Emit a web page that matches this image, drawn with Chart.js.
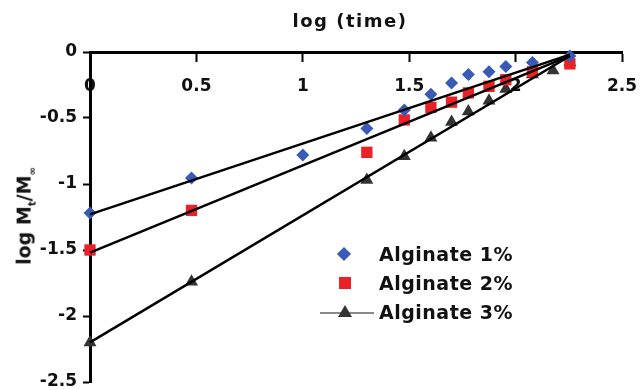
<!DOCTYPE html>
<html>
<head>
<meta charset="utf-8">
<script src="https://cdn.jsdelivr.net/npm/chart.js@4.4.1/dist/chart.umd.min.js"></script>
<style>
html, body { margin: 0; padding: 0; background: #fff; }
#wrap { position: relative; width: 640px; height: 390px; font-family: "DejaVu Sans", sans-serif; font-weight: bold; color: #111; }
canvas { position: absolute; left: 0; top: 0; }
.xtitle { position: absolute; left: 350px; top: 10px; transform: translateX(-50%); font-size: 18px; letter-spacing: 1.5px; white-space: nowrap; }
.ytitle { position: absolute; left: 25px; top: 216px; transform: translate(-50%, -50%) rotate(-90deg); font-size: 19px; white-space: nowrap; }
.ytitle sub { font-size: 10px; }
.leg { position: absolute; left: 379px; font-size: 19px; letter-spacing: 0.5px; white-space: nowrap; transform: translateY(-50%); }
.mk { position: absolute; }
</style>
</head>
<body>
<div id="wrap">
  <canvas id="chart" width="640" height="390"></canvas>
  <div class="xtitle">log (time)</div>
  <div class="ytitle">log M<sub>t</sub>/M<sub>∞</sub></div>

  <div class="mk" style="left:339px;top:249px;width:10px;height:10px;background:#3a5bb5;transform:rotate(45deg)"></div>
  <div class="leg" style="top:254px">Alginate 1%</div>
  <div class="mk" style="left:339px;top:277px;width:12px;height:12px;background:#ec2027"></div>
  <div class="leg" style="top:283px">Alginate 2%</div>
  <div class="mk" style="left:320px;top:312px;width:54px;height:2px;background:#8a8a8a"></div>
  <div class="mk" style="left:338px;top:305px;width:0;height:0;border-left:7px solid transparent;border-right:7px solid transparent;border-bottom:12px solid #333"></div>
  <div class="leg" style="top:312px">Alginate 3%</div>
</div>
<script>
// values
const xTicks = [0, 0.5, 1, 1.5, 2, 2.5];
const yTicks = [0, -0.5, -1, -1.5, -2, -2.5];

const alg1X = [0, 0.477, 1, 1.301, 1.477, 1.602, 1.699, 1.778, 1.875, 1.954, 2.079, 2.255];
const alg1Y = [-1.22, -0.955, -0.78, -0.58, -0.44, -0.32, -0.235, -0.17, -0.15, -0.11, -0.08, -0.03];

const alg2X = [0, 0.477, 1.301, 1.477, 1.602, 1.699, 1.778, 1.875, 1.954, 2.079, 2.255];
const alg2Y = [-1.5, -1.2, -0.76, -0.515, -0.42, -0.38, -0.31, -0.26, -0.21, -0.15, -0.09];

const alg3X = [0, 0.477, 1.301, 1.477, 1.602, 1.699, 1.778, 1.875, 1.954, 2.079, 2.176, 2.255];
const alg3Y = [-2.2, -1.74, -0.97, -0.79, -0.65, -0.53, -0.45, -0.37, -0.28, -0.17, -0.14, -0.08];

// trend line ends
const trendX = [0, 2.255];
const trend1Y = [-1.23, -0.02];
const trend2Y = [-1.52, -0.03];
const trend3Y = [-2.2, -0.03];

const pts = (xs, ys) => xs.map((x, i) => ({ x: x, y: ys[i] }));

function markers(data, shape, color, r) {
    return {
        type: 'scatter', data: data, pointStyle: shape, pointRadius: r,
        backgroundColor: color, borderColor: color, borderWidth: 0, order: 2, clip: false
    };
}
function trend(data) {
    return {
        type: 'line', data: data, borderColor: '#000', borderWidth: 2.5,
        pointRadius: 0, fill: false, order: 1, clip: false
    };
}

const tickFont = { family: 'DejaVu Sans', size: 17, weight: 'bold' };

new Chart(document.getElementById('chart').getContext('2d'), {
    data: {
        datasets: [
            markers(pts(alg1X, alg1Y), 'rectRot', '#3a5bb5', 6.5),
            markers(pts(alg2X, alg2Y), 'rect', '#ec2027', 8),
            markers(pts(alg3X, alg3Y), 'triangle', '#333333', 7.5),
            trend(pts(trendX, trend1Y)),
            trend(pts(trendX, trend2Y)),
            trend(pts(trendX, trend3Y))
        ]
    },
    options: {
        responsive: false,
        animation: false,
        layout: { padding: { left: 30, top: 52, right: 18, bottom: 8 } },
        plugins: { legend: { display: false }, tooltip: { enabled: false } },
        scales: {
            x: {
                type: 'linear', position: { y: 0 }, min: 0, max: 2.5,
                afterBuildTicks: s => { s.ticks = xTicks.map(v => ({ value: v })); },
                afterFit: s => { s.paddingLeft = 0; s.paddingRight = 0; },
                border: { display: true, color: '#000', width: 3 },
                grid: { drawOnChartArea: false, drawTicks: true, tickLength: 8, tickWidth: 2, tickColor: '#000' },
                ticks: { color: '#111', font: tickFont, padding: 16, callback: v => String(v) }
            },
            y: {
                type: 'linear', position: 'left', min: -2.5, max: 0,
                afterBuildTicks: s => { s.ticks = yTicks.map(v => ({ value: v })); },
                afterFit: s => { s.width = 60; s.paddingTop = 0; s.paddingBottom = 0; },
                border: { display: true, color: '#000', width: 3 },
                grid: { drawOnChartArea: false, drawTicks: true, tickLength: 7, tickWidth: 2, tickColor: '#000' },
                ticks: { color: '#111', font: tickFont, padding: 6, callback: v => String(v) }
            }
        }
    }
});
</script>
</body>
</html>
